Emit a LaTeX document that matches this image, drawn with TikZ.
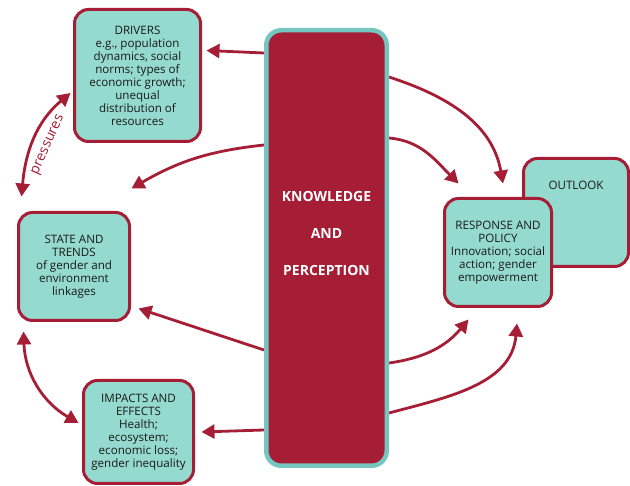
\documentclass[tikz,border=0pt]{standalone}
\usepackage{fontspec}
\setmainfont{Open Sans}
\usetikzlibrary{shapes,backgrounds,calc,arrows.meta,positioning}
\usepackage{xcolor}
\definecolor{framered}{HTML}{A51E36}
\definecolor{boxteal}{HTML}{95DACF}
\definecolor{barteal}{HTML}{74C6C1}

\begin{document}
\begin{tikzpicture}[
            x = 1pt,
            y = 1pt,
            box/.style={
                draw = framered,
                fill = boxteal,
                line width = 3pt,
                rounded corners = 14pt,
                align = center,
                inner sep = 0pt,
                text = black!90,
                font = \fontsize{11.6}{13}\selectfont
            },
            bar/.style={
                draw = barteal,
                fill = framered,
                line width = 4.5pt,
                rounded corners = 15pt
            },
            link/.style={
                draw = framered,
                line width = 2.8pt,
                -{Triangle[length=13pt,width=14pt]}
            },
            twoway/.style={
                link,
                {Triangle[length=13pt,width=14pt]}-{Triangle[length=13pt,width=14pt]}
            }
        ]
        \useasboundingbox (0,0) rectangle (630,486);
        \node[bar, minimum width = 120.5pt, minimum height = 435.5pt] (kp) at (326.5,238) {};
        \node[text = white, align = center, font = \fontsize{14}{37}\selectfont\bfseries] (kp_title) at (326.5,252) {KNOWLEDGE\\AND\\PERCEPTION};
        
        \node[box, minimum width = 126pt, minimum height = 132pt] (drivers) at (137.5,410.5) {DRIVERS\\e.g., population\\dynamics, social\\norms; types of\\economic growth;\\unequal\\distribution of\\resources};
        \node[box, minimum width = 111pt, minimum height = 108pt] (state) at (74,219.5) {STATE AND\\TRENDS\\of gender and\\environment\\linkages};
        \node[box, minimum width = 110pt, minimum height = 103pt] (impacts) at (138.5,54) {IMPACTS AND\\EFFECTS\\Health;\\ecosystem;\\economic loss;\\gender inequality};
        \node[box, minimum width = 105pt, minimum height = 108pt,
            label = {[anchor = north, yshift = -24pt, inner sep = 0pt, text = black!90, font = \fontsize{11.6}{13}\selectfont]north:OUTLOOK}] (outlook) at (576,273.5) {};
        \node[box, minimum width = 107pt, minimum height = 108pt] (response) at (498,233.5) {RESPONSE AND\\POLICY\\Innovation; social\\action; gender\\empowerment};
        
        \begin{scope}[on background layer]
            \draw[link] ([yshift=195pt]kp.west) -- ([xshift=4.5pt,yshift=25pt]drivers.east);
            \draw[link] ([yshift=103pt]kp.west) to [bend right=12] ([xshift=0.5pt,yshift=22.5pt]state.north east);
            \draw[twoway] ([xshift=4.5pt,yshift=14.5pt]state.north west) to [out=85, in=220]
                node[sloped, below = 5pt, pos=0.5, text = framered, font = \fontsize{14}{16}\selectfont] (pressures) {pressures}
                ([xshift=-2.5pt,yshift=-17.5pt]drivers.west);
            \draw[link] ([yshift=-102pt]kp.west) -- ([xshift=7.5pt,yshift=13.5pt]state.south east);
            \draw[twoway] ([xshift=6.5pt,yshift=-9.5pt]state.south west) to [out=-88, in=150] ([xshift=-3.5pt,yshift=9pt]impacts.west);
            \draw[link] ([yshift=-182pt]kp.west) -- ([xshift=6.5pt]impacts.east);
            
            \draw[link] ([yshift=171pt]kp.east) to [out=-18, in=100] ([xshift=5pt,yshift=13.5pt]response.north);
            \draw[link] ([yshift=110pt]kp.east) to [out=-5, in=135] ([xshift=15.5pt,yshift=13.5pt]response.north west);
            \draw[link] ([yshift=-115pt]kp.east) to [out=8, in=-130] ([xshift=25.5pt,yshift=-11.5pt]response.south west);
            \draw[link] ([yshift=-165pt]kp.east) to [out=15, in=-95] ([xshift=19pt,yshift=-15.5pt]response.south);
        \end{scope}
    \end{tikzpicture}
\end{document}
